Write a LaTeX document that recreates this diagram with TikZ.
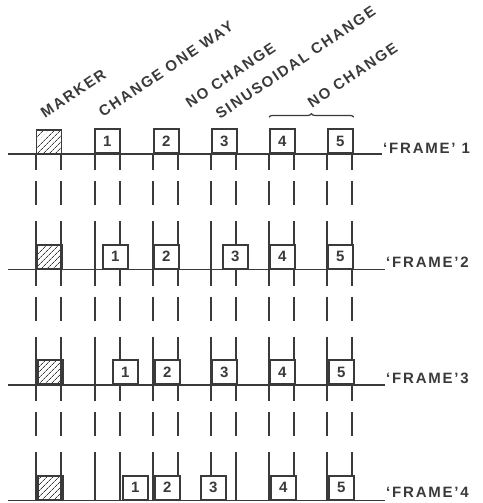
\documentclass[tikz,border=0pt]{standalone}
\usepackage{fontspec}
\newfontfamily\lettering{Liberation Sans}[LetterSpace=12]
\usetikzlibrary{patterns.meta, decorations.pathreplacing}
\definecolor{ink}{HTML}{3A3A3A}

\begin{document}
\begin{tikzpicture}[x=1pt, y=-1pt,
          lbl/.style={font=\lettering\bfseries\fontsize{15}{17}\selectfont, text=ink, inner sep=0pt},
          slot/.style={lbl, draw=ink, line width=1.8pt, fill=white, minimum width=25pt,
            minimum height=24pt, anchor=south west},
          mrk/.style={slot, pattern={Lines[angle=45, distance=4pt, line width=0.8pt]}, pattern color=ink},
          guide/.style={draw=ink, line width=1.1pt, dash pattern=on 16pt off 11pt on 24pt off 16pt on 48.5pt off 0pt},
          rule/.style={draw=ink, line width=1.3pt}
        ]
        \useasboundingbox (0,0) rectangle (482,503);
        % frame lines and their names
        \coordinate (l1) at (8,154);
        \coordinate (l2) at (8,269.5);
        \coordinate (l3) at (8,385);
        \coordinate (l4) at (8,500.5);
        \node[lbl, anchor=base west] (f1) at (383,153) {‘FRAME’ 1};
        \node[lbl, anchor=base west] (f2) at (386,267) {‘FRAME’2};
        \node[lbl, anchor=base west] (f3) at (386,383) {‘FRAME’3};
        \node[lbl, anchor=base west] (f4) at (386,497.5) {‘FRAME’4};
        \foreach \i in {1,...,4}
          \draw[rule] (l\i) -- ([xshift=-1pt]l\i -| f\i.west);
        % guide lines under the slots
        \foreach \x in {36,61,95,120,153,178,211,236,269,294,327,352}
          \draw[guide] (\x,0 |- l1) -- (\x,0 |- l4);
        % slots, frame by frame
        \node[mrk] (m1) at (36,0 |- l1) {};
        \foreach \k/\x in {1/94, 2/153, 3/211, 4/269, 5/327}
          \node[slot] (b1\k) at (\x,0 |- l1) {\k};
        \node[mrk] (m2) at (36,0 |- l2) {};
        \foreach \k/\x in {1/102, 2/153, 3/222, 4/269, 5/327}
          \node[slot] (b2\k) at (\x,0 |- l2) {\k};
        \node[mrk] (m3) at (37,0 |- l3) {};
        \foreach \k/\x in {1/112, 2/154, 3/211, 4/269, 5/328}
          \node[slot] (b3\k) at (\x,0 |- l3) {\k};
        \node[mrk] (m4) at (37,0 |- l4) {};
        \foreach \k/\x in {1/122, 2/154, 3/200, 4/270, 5/328}
          \node[slot] (b4\k) at (\x,0 |- l4) {\k};
        % slanted headings
        \node[lbl, anchor=base west, rotate=34] (t1) at (45,119) {MARKER};
        \node[lbl, anchor=base west, rotate=34] (t2) at (103,118) {CHANGE ONE WAY};
        \node[lbl, anchor=base west, rotate=34] (t3) at (190,109) {NO CHANGE};
        \node[lbl, anchor=base west, rotate=34] (t4) at (220,120) {SINUSOIDAL CHANGE};
        \node[lbl, anchor=base west, rotate=34] (t5) at (312,109) {NO CHANGE};
        \draw[ink, line width=1.2pt, decorate, decoration={brace, amplitude=3.5pt}]
          ([yshift=11pt]b14.north west) -- ([yshift=11pt]b15.north east);
      \end{tikzpicture}
\end{document}
